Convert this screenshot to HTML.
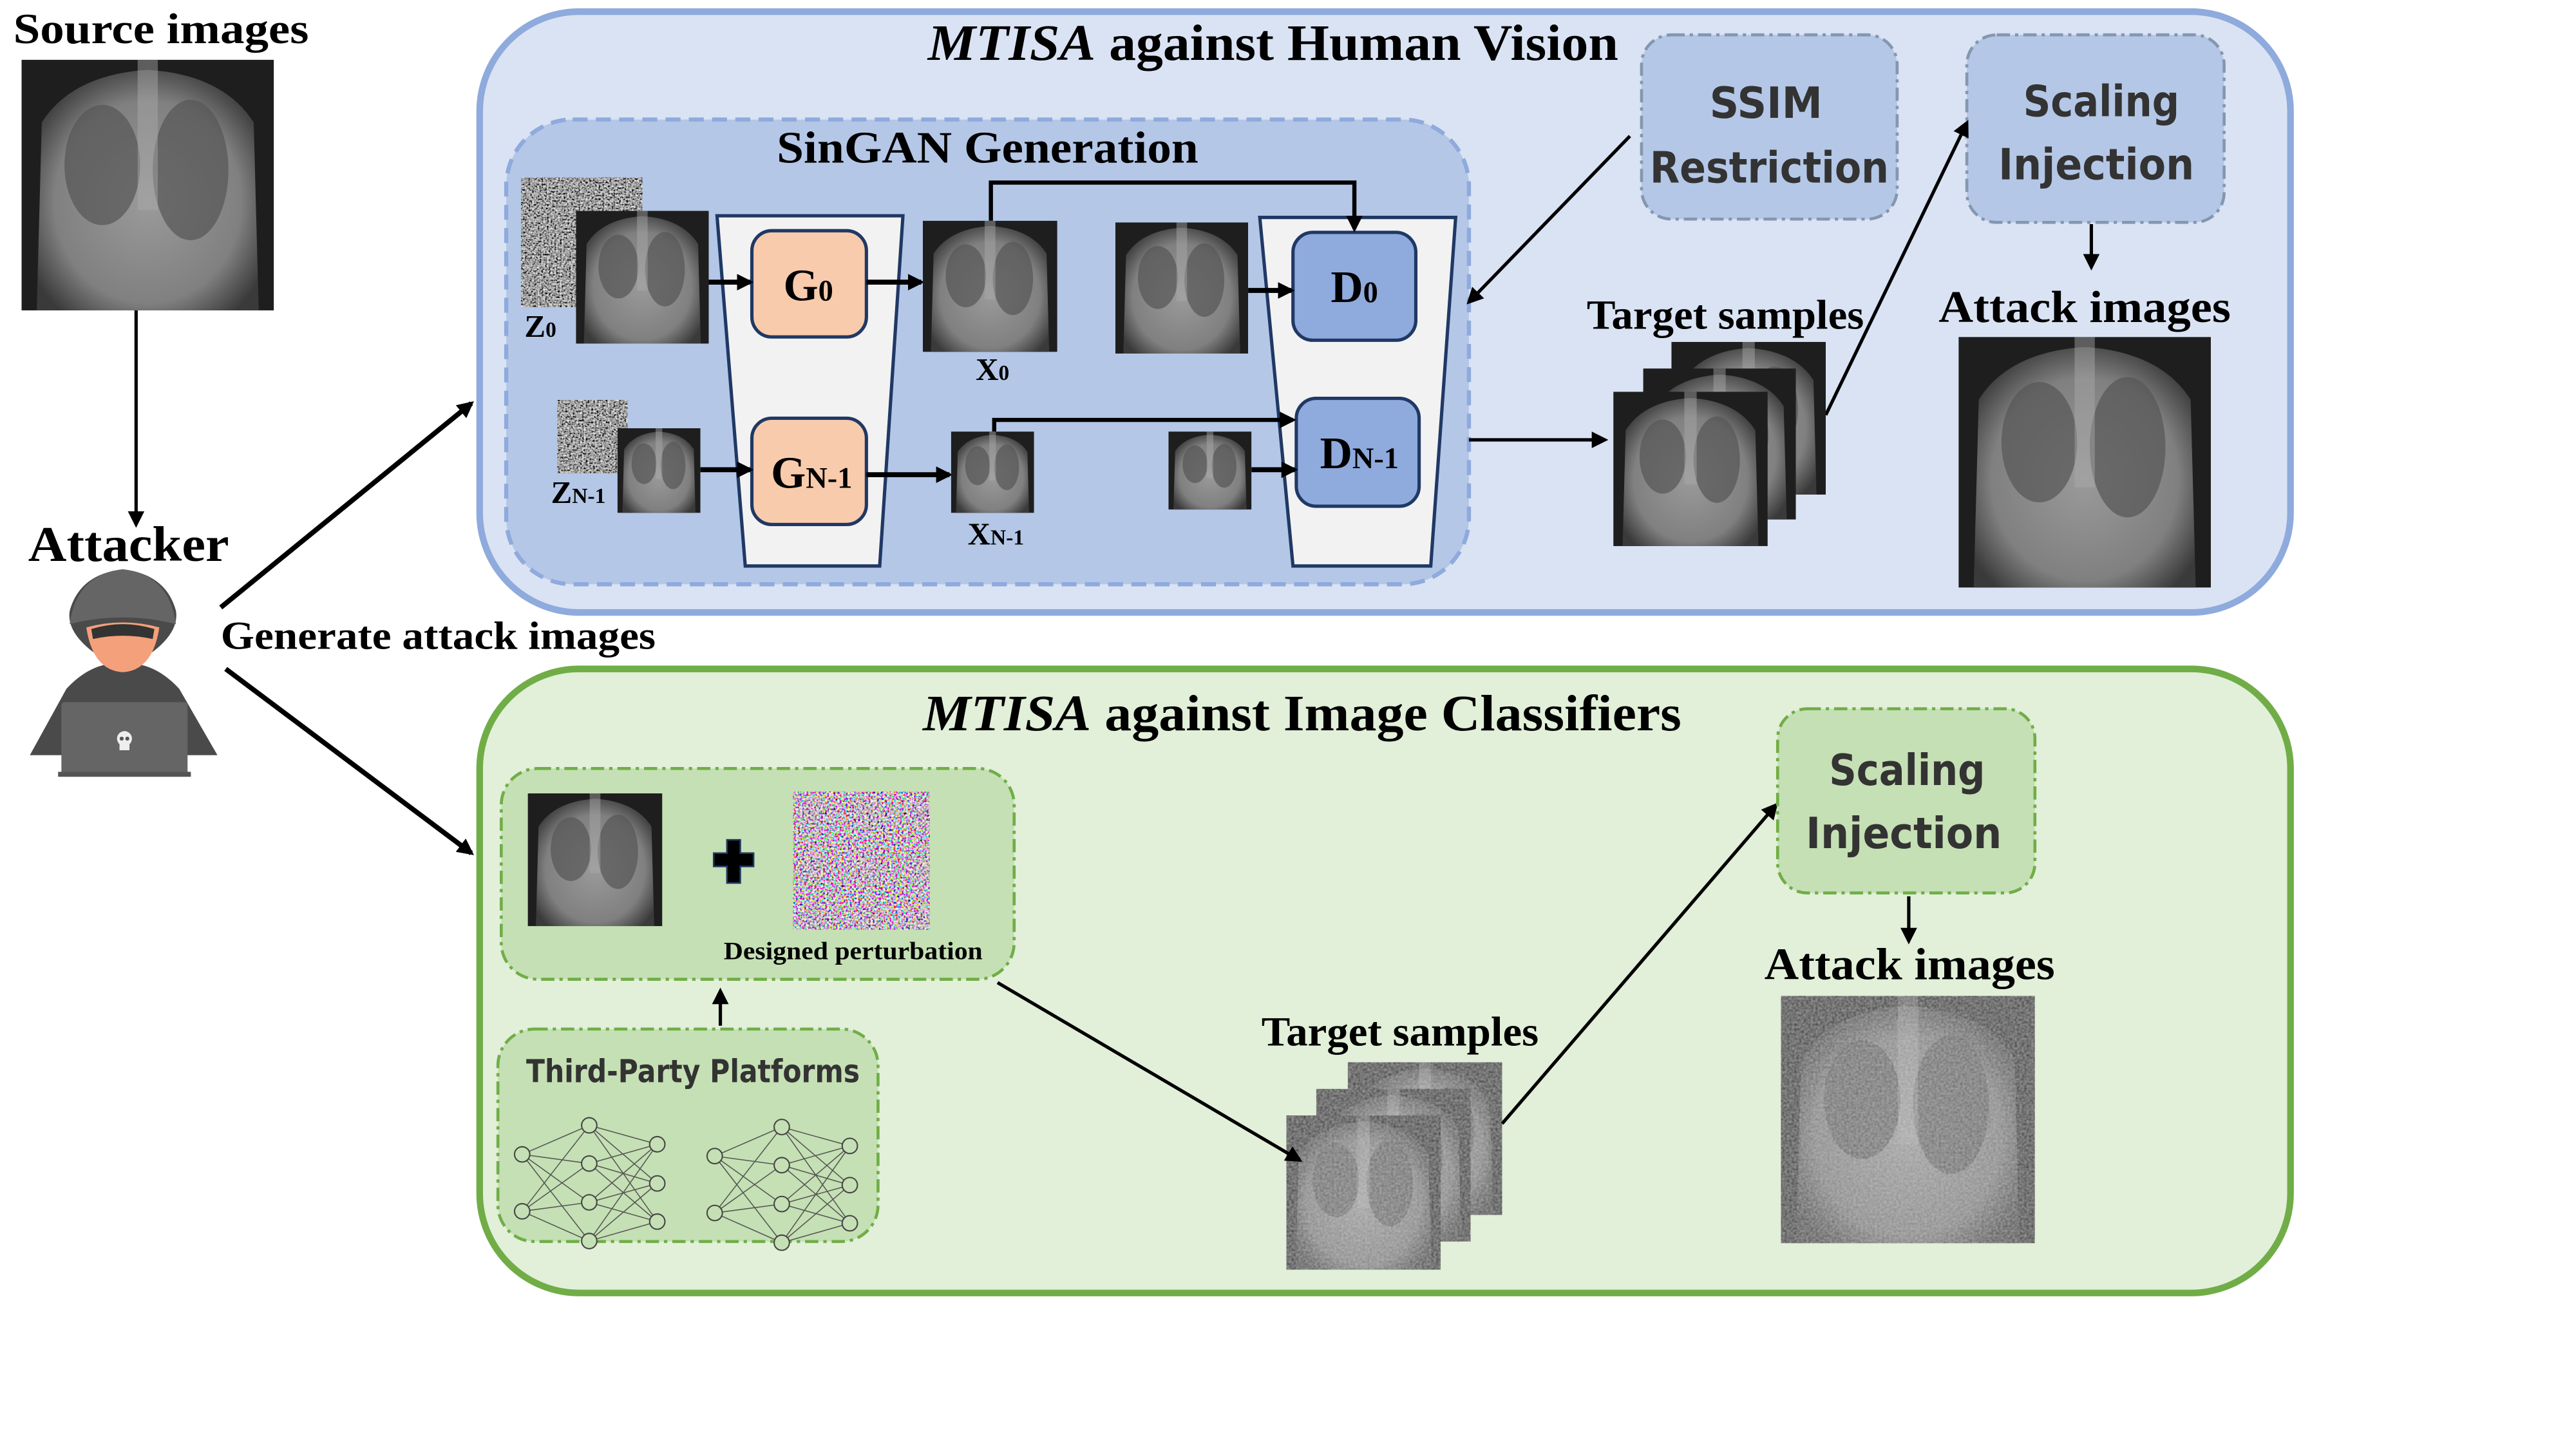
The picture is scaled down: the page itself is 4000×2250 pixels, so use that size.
<!DOCTYPE html>
<html><head><meta charset="utf-8"><style>html,body{margin:0;padding:0;background:#fff}svg{display:block}</style></head>
<body>
<svg width="4000" height="2250" viewBox="0 0 1552 873" xmlns="http://www.w3.org/2000/svg">
<defs>
<marker id="ah" markerWidth="10" markerHeight="10" refX="8" refY="5" orient="auto" markerUnits="userSpaceOnUse"><path d="M0,0 L10,5 L0,10 z" fill="#000"/></marker>
<filter id="nz" x="0" y="0" width="100%" height="100%"><feTurbulence type="fractalNoise" baseFrequency="0.9" numOctaves="2" seed="3"/><feColorMatrix type="saturate" values="0"/><feComponentTransfer><feFuncR type="linear" slope="2.2" intercept="-0.75"/><feFuncG type="linear" slope="2.2" intercept="-0.75"/><feFuncB type="linear" slope="2.2" intercept="-0.75"/><feFuncA type="table" tableValues="1 1"/></feComponentTransfer></filter>
<filter id="cnz" x="0" y="0" width="100%" height="100%"><feTurbulence type="fractalNoise" baseFrequency="0.8" numOctaves="2" seed="7"/><feComponentTransfer><feFuncR type="linear" slope="3" intercept="-0.9"/><feFuncG type="linear" slope="3" intercept="-1"/><feFuncB type="linear" slope="3" intercept="-0.9"/><feFuncA type="table" tableValues="1 1"/></feComponentTransfer></filter>
<filter id="gn" x="0" y="0" width="100%" height="100%"><feTurbulence type="fractalNoise" baseFrequency="0.7" numOctaves="1" seed="2" result="t"/><feColorMatrix in="t" type="matrix" values="0 0 0 0 0.85  0 0 0 0 0.85  0 0 0 0 0.85  0 0 0 0.4 0" result="n"/><feComposite in="n" in2="SourceGraphic" operator="in" result="m"/><feMerge><feMergeNode in="SourceGraphic"/><feMergeNode in="m"/></feMerge></filter>
<radialGradient id="body" cx="0.5" cy="0.55" r="0.6"><stop offset="0" stop-color="#9a9a9a"/><stop offset="0.7" stop-color="#808080"/><stop offset="1" stop-color="#3a3a3a"/></radialGradient>
<symbol id="xr" viewBox="0 0 100 100" preserveAspectRatio="none">
<rect width="100" height="100" fill="#1e1e1e"/>
<path d="M6,100 L8,25 Q20,6 50,4 Q80,6 92,25 L94,100 z" fill="url(#body)"/>
<ellipse cx="32" cy="42" rx="15" ry="24" fill="#555" opacity="0.7"/>
<ellipse cx="67" cy="44" rx="15" ry="28" fill="#555" opacity="0.7"/>
<rect x="46" y="0" width="8" height="60" fill="#aaa" opacity="0.45"/>
</symbol>
</defs>

<!-- Left -->
<text x="8" y="26" font-family="Liberation Serif, serif" font-weight="bold" font-size="26" textLength="178" lengthAdjust="spacingAndGlyphs">Source images</text>
<use href="#xr" x="13" y="36" width="152" height="151"/>
<line x1="82" y1="187" x2="82" y2="316" stroke="#000" stroke-width="2" marker-end="url(#ah)"/>
<text x="17" y="338" font-family="Liberation Serif, serif" font-weight="bold" font-size="30" textLength="121" lengthAdjust="spacingAndGlyphs">Attacker</text>
<!-- hacker -->
<g>
<path d="M18,455 L40,415 Q52,402 66,400 L55,392 Q40,380 42,368 Q48,346 74,343 Q100,346 106,368 Q108,380 93,392 L82,400 Q96,402 108,415 L131,455 Z" fill="#4a4a4a"/>
<path d="M42,376 Q46,346 74,343 Q102,346 106,376 Q74,368 42,376 z" fill="#656565"/>
<path d="M52,378 Q74,372 96,378 Q92,404 74,405 Q56,404 52,378 z" fill="#f4a07a"/>
<path d="M55,379 Q74,373 93,379 L92,385 Q74,381 56,385 z" fill="#333"/>
<rect x="37" y="423" width="76" height="44" rx="2" fill="#656565"/>
<rect x="35" y="465" width="80" height="3" fill="#555"/>
<circle cx="75" cy="445" r="4.5" fill="#eee"/><rect x="72" y="448" width="6" height="4" fill="#eee"/>
<circle cx="73.3" cy="445" r="1.2" fill="#555"/><circle cx="76.7" cy="445" r="1.2" fill="#555"/>
</g>
<text x="133" y="391" font-family="Liberation Serif, serif" font-weight="bold" font-size="24" textLength="262" lengthAdjust="spacingAndGlyphs">Generate attack images</text>
<line x1="133" y1="366" x2="284" y2="243" stroke="#000" stroke-width="3" marker-end="url(#ah)"/>
<line x1="136" y1="403" x2="284" y2="514" stroke="#000" stroke-width="3" marker-end="url(#ah)"/>

<!-- Blue panel -->
<rect x="289" y="7" width="1091" height="362" rx="60" fill="#dae3f3" stroke="#8faadc" stroke-width="4"/>
<text x="559" y="36" font-family="Liberation Serif, serif" font-weight="bold" font-size="31" textLength="416" lengthAdjust="spacingAndGlyphs"><tspan font-style="italic">MTISA</tspan> against Human Vision</text>
<rect x="305" y="72" width="580" height="280" rx="40" fill="#b4c7e7" stroke="#8faadc" stroke-width="2.5" stroke-dasharray="9,5"/>
<text x="468" y="98" font-family="Liberation Serif, serif" font-weight="bold" font-size="27" textLength="254" lengthAdjust="spacingAndGlyphs">SinGAN Generation</text>

<rect x="314" y="107" width="73" height="78" fill="#808080" filter="url(#nz)"/>
<use href="#xr" x="347" y="127" width="80" height="80"/>
<text x="316" y="203" font-family="Liberation Serif, serif" font-weight="bold" font-size="19">Z<tspan font-size="13">0</tspan></text>
<rect x="336" y="241" width="42" height="44" fill="#808080" filter="url(#nz)"/>
<use href="#xr" x="372" y="258" width="50" height="51"/>
<text x="332" y="303" font-family="Liberation Serif, serif" font-weight="bold" font-size="19">Z<tspan font-size="13">N-1</tspan></text>

<polygon points="432,130 544,130 530,341 449,341" fill="#f2f2f2" stroke="#203864" stroke-width="2"/>
<rect x="453" y="139" width="69" height="64" rx="12" fill="#f8cbad" stroke="#203864" stroke-width="2"/>
<text x="487" y="181" text-anchor="middle" font-family="Liberation Serif, serif" font-weight="bold" font-size="27">G<tspan font-size="18">0</tspan></text>
<rect x="453" y="252" width="69" height="64" rx="12" fill="#f8cbad" stroke="#203864" stroke-width="2"/>
<text x="489" y="294" text-anchor="middle" font-family="Liberation Serif, serif" font-weight="bold" font-size="27">G<tspan font-size="18">N-1</tspan></text>

<line x1="427" y1="170" x2="452" y2="170" stroke="#000" stroke-width="3" marker-end="url(#ah)"/>
<line x1="522" y1="170" x2="555" y2="170" stroke="#000" stroke-width="3" marker-end="url(#ah)"/>
<line x1="422" y1="283" x2="452" y2="283" stroke="#000" stroke-width="3" marker-end="url(#ah)"/>
<line x1="522" y1="286" x2="572" y2="286" stroke="#000" stroke-width="3" marker-end="url(#ah)"/>

<use href="#xr" x="556" y="133" width="81" height="79"/>
<text x="598" y="229" text-anchor="middle" font-family="Liberation Serif, serif" font-weight="bold" font-size="19">X<tspan font-size="13">0</tspan></text>
<use href="#xr" x="573" y="260" width="50" height="49"/>
<text x="600" y="328" text-anchor="middle" font-family="Liberation Serif, serif" font-weight="bold" font-size="19">X<tspan font-size="13">N-1</tspan></text>
<use href="#xr" x="672" y="134" width="80" height="79"/>
<use href="#xr" x="704" y="260" width="50" height="47"/>

<polygon points="759,131 877,131 862,341 779,341" fill="#f2f2f2" stroke="#203864" stroke-width="2"/>
<rect x="779" y="140" width="74" height="65" rx="12" fill="#8faadc" stroke="#203864" stroke-width="2"/>
<text x="816" y="182" text-anchor="middle" font-family="Liberation Serif, serif" font-weight="bold" font-size="27">D<tspan font-size="18">0</tspan></text>
<rect x="781" y="240" width="74" height="65" rx="12" fill="#8faadc" stroke="#203864" stroke-width="2"/>
<text x="819" y="282" text-anchor="middle" font-family="Liberation Serif, serif" font-weight="bold" font-size="27">D<tspan font-size="18">N-1</tspan></text>

<polyline points="597,133 597,110 816,110 816,138" fill="none" stroke="#000" stroke-width="2.5" marker-end="url(#ah)"/>
<polyline points="599,260 599,253 779,253" fill="none" stroke="#000" stroke-width="2.5" marker-end="url(#ah)"/>
<line x1="752" y1="175" x2="778" y2="175" stroke="#000" stroke-width="3" marker-end="url(#ah)"/>
<line x1="754" y1="283" x2="780" y2="283" stroke="#000" stroke-width="3" marker-end="url(#ah)"/>

<line x1="885" y1="265" x2="967" y2="265" stroke="#000" stroke-width="2" marker-end="url(#ah)"/>
<line x1="982" y1="82" x2="885" y2="182" stroke="#000" stroke-width="2" marker-end="url(#ah)"/>

<rect x="989" y="21" width="154" height="111" rx="18" fill="#b4c7e7" stroke="#8497b0" stroke-width="1.8" stroke-dasharray="8,3,2,3"/>
<text x="1064" y="71" text-anchor="middle" font-family="DejaVu Sans, sans-serif" font-weight="bold" font-size="26" fill="#333" textLength="68" lengthAdjust="spacingAndGlyphs">SSIM</text>
<text x="1066" y="110" text-anchor="middle" font-family="DejaVu Sans, sans-serif" font-weight="bold" font-size="26" fill="#333" textLength="144" lengthAdjust="spacingAndGlyphs">Restriction</text>
<rect x="1185" y="21" width="155" height="113" rx="18" fill="#b4c7e7" stroke="#8497b0" stroke-width="1.8" stroke-dasharray="8,3,2,3"/>
<text x="1266" y="70" text-anchor="middle" font-family="DejaVu Sans, sans-serif" font-weight="bold" font-size="26" fill="#333" textLength="94" lengthAdjust="spacingAndGlyphs">Scaling</text>
<text x="1263" y="108" text-anchor="middle" font-family="DejaVu Sans, sans-serif" font-weight="bold" font-size="26" fill="#333" textLength="118" lengthAdjust="spacingAndGlyphs">Injection</text>
<line x1="1100" y1="250" x2="1185" y2="74" stroke="#000" stroke-width="2" marker-end="url(#ah)"/>
<line x1="1260" y1="135" x2="1260" y2="161" stroke="#000" stroke-width="2" marker-end="url(#ah)"/>

<text x="956" y="198" font-family="Liberation Serif, serif" font-weight="bold" font-size="25" textLength="167" lengthAdjust="spacingAndGlyphs">Target samples</text>
<use href="#xr" x="1007" y="206" width="93" height="92"/>
<use href="#xr" x="990" y="222" width="92" height="91"/>
<use href="#xr" x="972" y="236" width="93" height="93"/>
<text x="1168" y="194" font-family="Liberation Serif, serif" font-weight="bold" font-size="27" textLength="176" lengthAdjust="spacingAndGlyphs">Attack images</text>
<use href="#xr" x="1180" y="203" width="152" height="151"/>

<!-- Green panel -->
<rect x="289" y="403" width="1091" height="376" rx="60" fill="#e2efd9" stroke="#70ad47" stroke-width="4"/>
<text x="556" y="440" font-family="Liberation Serif, serif" font-weight="bold" font-size="31" textLength="457" lengthAdjust="spacingAndGlyphs"><tspan font-style="italic">MTISA</tspan> against Image Classifiers</text>
<rect x="302" y="463" width="309" height="127" rx="22" fill="#c5e0b4" stroke="#70ad47" stroke-width="1.8" stroke-dasharray="8,3,2,3"/>
<use href="#xr" x="318" y="478" width="81" height="80"/>
<path d="M438,506 h8 v8 h8 v8 h-8 v10 h-8 v-10 h-8 v-8 h8 z" fill="#000" stroke="#203864" stroke-width="1"/>
<rect x="478" y="477" width="82" height="83" fill="#888" filter="url(#cnz)"/>
<text x="436" y="578" font-family="Liberation Serif, serif" font-weight="bold" font-size="15" textLength="156" lengthAdjust="spacingAndGlyphs">Designed perturbation</text>
<line x1="434" y1="618" x2="434" y2="597" stroke="#000" stroke-width="2" marker-end="url(#ah)"/>

<rect x="300" y="620" width="229" height="128" rx="22" fill="#c5e0b4" stroke="#70ad47" stroke-width="1.8" stroke-dasharray="8,3,2,3"/>
<text x="317" y="652" font-family="DejaVu Sans, sans-serif" font-weight="bold" font-size="19" fill="#333" textLength="201" lengthAdjust="spacingAndGlyphs">Third-Party Platforms</text>
<g id="net" stroke="#555" stroke-width="0.6" fill="none">
<path d="M314.6,695.5 L355,678 M314.6,695.5 L355,701 M314.6,695.5 L355,724.4 M314.6,695.5 L355,747.7 M314.6,729.8 L355,678 M314.6,729.8 L355,701 M314.6,729.8 L355,724.4 M314.6,729.8 L355,747.7
M355,678 L396,689.4 M355,678 L396,713 M355,678 L396,736 M355,701 L396,689.4 M355,701 L396,713 M355,701 L396,736 M355,724.4 L396,689.4 M355,724.4 L396,713 M355,724.4 L396,736 M355,747.7 L396,689.4 M355,747.7 L396,713 M355,747.7 L396,736"/>
<g fill="#c5e0b4" stroke="#444" stroke-width="0.8">
<circle cx="314.6" cy="695.5" r="4.6"/><circle cx="314.6" cy="729.8" r="4.6"/>
<circle cx="355" cy="678" r="4.6"/><circle cx="355" cy="701" r="4.6"/><circle cx="355" cy="724.4" r="4.6"/><circle cx="355" cy="747.7" r="4.6"/>
<circle cx="396" cy="689.4" r="4.6"/><circle cx="396" cy="713" r="4.6"/><circle cx="396" cy="736" r="4.6"/>
</g>
</g>
<use href="#net" transform="translate(116,1)"/>

<text x="760" y="630" font-family="Liberation Serif, serif" font-weight="bold" font-size="25" textLength="167" lengthAdjust="spacingAndGlyphs">Target samples</text>
<g filter="url(#gn)">
<use href="#xr" x="812" y="640" width="93" height="92"/>
<use href="#xr" x="793" y="656" width="93" height="92"/>
<use href="#xr" x="775" y="672" width="93" height="93"/>
</g>
<line x1="601" y1="592" x2="783" y2="699" stroke="#000" stroke-width="2" marker-end="url(#ah)"/>
<line x1="905" y1="677" x2="1070" y2="485" stroke="#000" stroke-width="2" marker-end="url(#ah)"/>
<rect x="1071" y="427" width="155" height="111" rx="18" fill="#c5e0b4" stroke="#70ad47" stroke-width="1.8" stroke-dasharray="8,3,2,3"/>
<text x="1149" y="473" text-anchor="middle" font-family="DejaVu Sans, sans-serif" font-weight="bold" font-size="26" fill="#333" textLength="94" lengthAdjust="spacingAndGlyphs">Scaling</text>
<text x="1147" y="511" text-anchor="middle" font-family="DejaVu Sans, sans-serif" font-weight="bold" font-size="26" fill="#333" textLength="118" lengthAdjust="spacingAndGlyphs">Injection</text>
<line x1="1150" y1="540" x2="1150" y2="567" stroke="#000" stroke-width="2" marker-end="url(#ah)"/>
<text x="1063" y="590" font-family="Liberation Serif, serif" font-weight="bold" font-size="27" textLength="175" lengthAdjust="spacingAndGlyphs">Attack images</text>
<g filter="url(#gn)"><use href="#xr" x="1073" y="600" width="153" height="149"/></g>
</svg>
</body></html>
